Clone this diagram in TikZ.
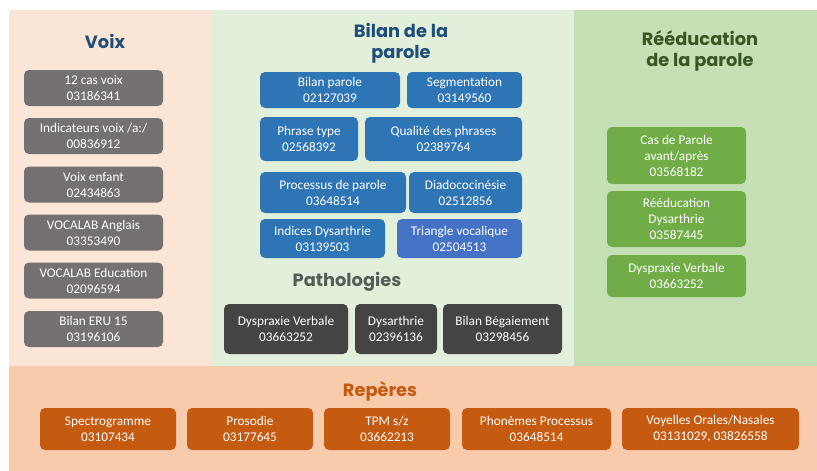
\documentclass[tikz,border=0pt]{standalone}
\usepackage{fontspec}
\setmainfont{Carlito}
\newfontfamily\titlefont{Poppins}
\definecolor{bgleft}{HTML}{FBE5D6}
\definecolor{bgmid}{HTML}{E2EFDA}
\definecolor{bgright}{HTML}{C5E0B4}
\definecolor{bgbot}{HTML}{F8CBAD}
\definecolor{grayb}{HTML}{767171}
\definecolor{blueb}{HTML}{2E75B6}
\definecolor{blueb2}{HTML}{4472C4}
\definecolor{darkb}{HTML}{444444}
\definecolor{greenb}{HTML}{70AD47}
\definecolor{orangeb}{HTML}{C55A11}
\definecolor{tblue}{HTML}{1F4E79}
\definecolor{tgray}{HTML}{545E54}
\definecolor{tgreen}{HTML}{385723}
\definecolor{torange}{HTML}{C55A11}
\tikzset{
  bx/.style={rounded corners=5pt, text=white, align=center, inner sep=0pt,
    font=\fontsize{13.3}{16}\selectfont},
  ttl/.style={align=center, font=\titlefont\bfseries\fontsize{17.8}{20.5}\selectfont, inner sep=0pt}
}
\newcommand\mybox[7]{\node[bx, fill=#6, minimum width=#4pt, minimum height=#5pt] (#1) at (#2,#3) {#7};}
\begin{document}
\begin{tikzpicture}[x=1pt,y=-1pt]
\useasboundingbox (0,0) rectangle (817,471);
\fill[white] (0,0) rectangle (817,471);
% panels
\fill[bgleft] (9,10) rectangle (211,366);
\fill[bgmid] (211,10) rectangle (574,366);
\fill[bgright] (574,10) rectangle (817,366);
\fill[bgbot] (9,366) rectangle (817,471);
% titles
\node[ttl, text=tblue] (tvoix) at (105,41) {Voix};
\node[ttl, text=tblue] (tbilan) at (401,43) {Bilan de la\\parole};
\node[ttl, text=tgray] (tpatho) at (347,282) {Pathologies};
\node[ttl, text=tgreen] (treed) at (700,51) {Rééducation\\de la parole};
\node[ttl, text=torange] (trep) at (380,391) {Repères};
% Voix
\mybox{v1}{93.5}{88}{139}{36}{grayb}{12 cas voix\\03186341}
\mybox{v2}{93.5}{136}{139}{36}{grayb}{Indicateurs voix /a:/\\00836912}
\mybox{v3}{93.5}{184.5}{139}{36}{grayb}{Voix enfant\\02434863}
\mybox{v4}{93.5}{232.5}{139}{36}{grayb}{VOCALAB Anglais\\03353490}
\mybox{v5}{93.5}{280.5}{139}{36}{grayb}{VOCALAB Education\\02096594}
\mybox{v6}{93.5}{329}{139}{36}{grayb}{Bilan ERU 15\\03196106}
% Bilan
\mybox{bp}{330}{90}{140}{36}{blueb}{Bilan parole\\02127039}
\mybox{seg}{464.5}{90}{115}{36}{blueb}{Segmentation\\03149560}
\mybox{pt}{309}{139}{98}{44}{blueb}{Phrase type\\02568392}
\mybox{qd}{443.5}{139}{157}{44}{blueb}{Qualité des phrases\\02389764}
\mybox{pp}{333}{192.5}{146}{41}{blueb}{Processus de parole\\03648514}
\mybox{dia}{465.5}{192.5}{113}{41}{blueb}{Diadococinésie\\02512856}
\mybox{ind}{322.5}{238.5}{125}{39}{blueb}{Indices Dysarthrie\\03139503}
\mybox{tri}{459.5}{238.5}{125}{39}{blueb2}{Triangle vocalique\\02504513}
% Pathologies
\mybox{p1}{286}{329}{124}{50}{darkb}{Dyspraxie Verbale\\03663252}
\mybox{p2}{396}{329}{82}{50}{darkb}{Dysarthrie\\02396136}
\mybox{p3}{502.5}{329}{119}{50}{darkb}{Bilan Bégaiement\\03298456}
% Reeducation
\mybox{r1}{676.5}{155.5}{139}{57}{greenb}{Cas de Parole\\avant/après\\03568182}
\mybox{r2}{676.5}{219}{139}{56}{greenb}{Rééducation\\Dysarthrie\\03587445}
\mybox{r3}{676.5}{276}{139}{42}{greenb}{Dyspraxie Verbale\\03663252}
% Reperes
\mybox{b1}{108}{429}{136}{42}{orangeb}{Spectrogramme\\03107434}
\mybox{b2}{250}{429}{126}{42}{orangeb}{Prosodie\\03177645}
\mybox{b3}{387}{429}{126}{42}{orangeb}{TPM s/z\\03662213}
\mybox{b4}{536.5}{429}{149}{42}{orangeb}{Phonèmes Processus\\03648514}
\mybox{b5}{710.5}{429}{177}{42}{orangeb}{Voyelles Orales/Nasales\\03131029, 03826558}
\end{tikzpicture}
\end{document}
